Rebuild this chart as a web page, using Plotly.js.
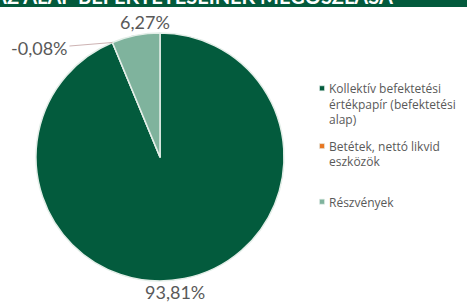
<!DOCTYPE html>
<html>
<head>
<meta charset="utf-8">
<script src="https://cdn.plot.ly/plotly-3.0.1.min.js"></script>
<style>html,body{margin:0;padding:0;background:#fff;}#chart{width:467px;height:304px;}</style>
</head>
<body>
<div id="chart"></div>
<script>
// Data
const categories = [
  "Kollektív befektetési<br>értékpapír (befektetési<br>alap)",
  "Betétek, nettó likvid<br>eszközök",
  "Részvények"
];
const shares = [93.81, -0.08, 6.27];
const sliceColors = ["#035b3d", "#e87722", "#7fb39d"];
const titleText = "AZ ALAP BEFEKTETÉSEINEK MEGOSZLÁSA";

const W = 467, H = 304;
const cx = 160, cy = 157, R = 124;
const labelFont = {family: "Lato, 'Open Sans', sans-serif", size: 18, color: "#595959"};

const pieValues = shares.map(v => Math.max(v, 0));
const fmt = v => v.toFixed(2).replace(".", ",") + "%";
const total = pieValues.reduce((a, b) => a + b, 0);

// label positions from slice angles (clockwise from 12 o'clock)
const annotations = [];
let cum = 0;
const px = x => x / W, py = y => 1 - y / H;
shares.forEach((v, i) => {
  const a0 = cum / total * 2 * Math.PI;
  cum += pieValues[i];
  const a1 = cum / total * 2 * Math.PI;
  if (pieValues[i] > 0) {
    const mid = (a0 + a1) / 2;
    annotations.push({
      x: px(cx + Math.sin(mid) * R * 0.62), y: py(cy - Math.cos(mid) * R * 1.11),
      xref: "paper", yref: "paper", showarrow: false,
      text: fmt(v), xanchor: "center", yanchor: "middle",
      font: labelFont
    });
  } else {
    // zero/negative slice: label with leader line to slice boundary
    annotations.push({
      x: px(cx + Math.sin(a0) * R), y: py(cy - Math.cos(a0) * R),
      xref: "paper", yref: "paper", showarrow: true, arrowhead: 0,
      arrowwidth: 1, arrowcolor: "#cdb3b3", standoff: 0,
      ax: -73, ay: 6,
      text: fmt(v),
      font: labelFont
    });
  }
});

annotations.push({
  x: 395 / W, y: 1 - 10 / H, xref: "paper", yref: "paper",
  xanchor: "right", yanchor: "bottom", showarrow: false,
  text: "<b>" + titleText + "</b>",
  font: {family: "Lato, sans-serif", size: 20, color: "#ffffff"}
});

const trace = {
  type: "pie",
  labels: categories,
  values: pieValues,
  sort: false,
  direction: "clockwise",
  rotation: 0,
  textinfo: "none",
  hoverinfo: "none",
  automargin: false,
  marker: {colors: sliceColors, line: {color: "#e3eee8", width: 1.5}},
  domain: {x: [(cx - R) / W, (cx + R) / W], y: [(H - cy - R) / H, (H - cy + R) / H]}
};

const layout = {
  width: W, height: H,
  margin: {l: 0, r: 0, t: 0, b: 0},
  paper_bgcolor: "#ffffff",
  showlegend: true,
  legend: {
    x: 289 / W, y: 1 - 74 / H, xanchor: "left", yanchor: "top",
    font: {family: "'Open Sans', sans-serif", size: 12, color: "#595959"},
    itemwidth: 30, traceorder: "normal", valign: "top", bgcolor: "rgba(0,0,0,0)"
  },
  shapes: [{
    type: "rect", xref: "paper", yref: "paper",
    x0: 0, x1: 1, y0: 1 - 7 / H, y1: 1.02,
    fillcolor: "#035a3c", line: {width: 0}, layer: "below"
  }],
  annotations: annotations
};

const itemOffsets = [0, 50, 98];

Plotly.newPlot("chart", [trace], layout, {displayModeBar: false, staticPlot: true}).then(gd => {
  gd.querySelectorAll(".legend .scrollbox").forEach(s => s.removeAttribute("clip-path"));
  const items = gd.querySelectorAll(".legend .traces");
  let base = null;
  items.forEach((g, i) => {
    const m = /translate\(\s*([-\d.]+)[ ,]+([-\d.]+)\s*\)/.exec(g.getAttribute("transform") || "");
    if (!m) return;
    const x = parseFloat(m[1]), y = parseFloat(m[2]);
    if (base === null) base = y;
    g.setAttribute("transform", "translate(" + x + "," + (base + itemOffsets[i]) + ")");
  });
  gd.querySelectorAll(".legendpoints path").forEach(p => {
    const t = p.getAttribute("transform") || "";
    p.setAttribute("transform", t + " translate(13,0) scale(0.42)");
  });
});
</script>
</body>
</html>
